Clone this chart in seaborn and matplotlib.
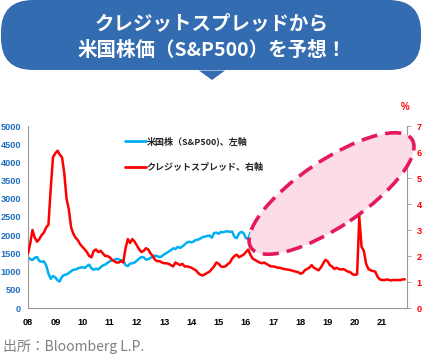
import matplotlib
matplotlib.use("Agg")
import matplotlib.pyplot as plt
import matplotlib.dates as mdates
import matplotlib.transforms as mtransforms
from matplotlib.patches import Ellipse, FancyBboxPatch, Polygon
from matplotlib.lines import Line2D
import numpy as np
import pandas as pd
import seaborn as sns

# 米国株 (S&P500) 月次, 2008/01 - 2021/11
sp500 = [
    1390, 1340, 1320, 1380, 1400, 1290, 1270, 1280, 1170, 950, 800, 880,      # 2008
    840, 760, 730, 860, 910, 920, 960, 1010, 1050, 1060, 1090, 1110,         # 2009
    1120, 1100, 1150, 1190, 1090, 1050, 1080, 1060, 1120, 1170, 1190, 1240,  # 2010
    1280, 1320, 1310, 1350, 1340, 1310, 1300, 1180, 1150, 1220, 1230, 1250,  # 2011
    1300, 1360, 1400, 1390, 1330, 1340, 1380, 1400, 1440, 1420, 1400, 1420,  # 2012
    1480, 1510, 1550, 1590, 1640, 1620, 1680, 1650, 1690, 1740, 1800, 1820,  # 2013
    1800, 1830, 1870, 1880, 1910, 1950, 1960, 1980, 1990, 1930, 2060, 2070,  # 2014
    2040, 2090, 2080, 2100, 2110, 2090, 2100, 1950, 1920, 2050, 2090, 2060,  # 2015
    1920, 1900, 2060, 2065, 2097, 2099, 2174, 2171, 2168, 2126, 2199, 2239,  # 2016
    2279, 2364, 2363, 2384, 2412, 2423, 2470, 2472, 2519, 2575, 2648, 2674,  # 2017
    2824, 2714, 2641, 2648, 2705, 2718, 2816, 2902, 2914, 2712, 2760, 2507,  # 2018
    2704, 2784, 2834, 2946, 2752, 2942, 2980, 2926, 2977, 3038, 3141, 3231,  # 2019
    3226, 2954, 2520, 2912, 3044, 3100, 3271, 3500, 3363, 3270, 3622, 3756,  # 2020
    3714, 3811, 3973, 4181, 4204, 4298, 4395, 4523, 4308, 4605, 4567,        # 2021
]

# クレジットスプレッド (%) 月次, 2008/01 - 2021/11
spread = [
    2.1, 2.5, 3.0, 2.7, 2.55, 2.65, 2.8, 2.9, 3.1, 3.2, 4.6, 5.8,            # 2008
    5.95, 6.05, 5.9, 5.8, 5.2, 4.2, 3.8, 3.1, 2.85, 2.7, 2.6, 2.45,          # 2009
    2.35, 2.25, 2.15, 2.0, 1.95, 2.2, 2.25, 2.15, 2.2, 2.1, 2.0, 2.0,        # 2010
    1.95, 1.85, 1.8, 1.75, 1.75, 1.8, 1.75, 2.3, 2.65, 2.5, 2.65, 2.55,      # 2011
    2.4, 2.25, 2.15, 2.2, 2.3, 2.25, 2.1, 2.0, 1.85, 1.8, 1.8, 1.75,         # 2012
    1.72, 1.72, 1.7, 1.65, 1.6, 1.75, 1.7, 1.65, 1.7, 1.6, 1.6, 1.58,        # 2013
    1.55, 1.5, 1.45, 1.35, 1.28, 1.25, 1.3, 1.35, 1.4, 1.5, 1.6, 1.75,       # 2014
    1.7, 1.6, 1.58, 1.6, 1.68, 1.75, 1.9, 2.0, 2.05, 1.95, 2.0, 2.05,        # 2015
    2.15, 2.25, 2.05, 1.9, 1.85, 1.8, 1.75, 1.72, 1.75, 1.7, 1.65, 1.6,      # 2016
    1.6, 1.58, 1.55, 1.55, 1.52, 1.5, 1.48, 1.47, 1.45, 1.42, 1.4, 1.38,     # 2017
    1.32, 1.35, 1.45, 1.5, 1.55, 1.65, 1.55, 1.5, 1.45, 1.55, 1.7, 1.85,     # 2018
    1.8, 1.65, 1.6, 1.5, 1.55, 1.5, 1.48, 1.5, 1.45, 1.4, 1.38, 1.3,         # 2019
    1.27, 1.3, 3.5, 2.35, 2.2, 1.7, 1.5, 1.45, 1.42, 1.4, 1.2, 1.1,          # 2020
    1.08, 1.07, 1.1, 1.08, 1.06, 1.08, 1.07, 1.08, 1.07, 1.1, 1.1,           # 2021
]

dates = pd.date_range("2008-01-01", periods=len(spread), freq="MS")
df = pd.DataFrame({"date": dates, "sp500": sp500, "spread": spread})

sns.set_theme(style="white")
plt.rcParams["font.family"] = ["Noto Sans CJK JP", "DejaVu Sans"]

W, H = 425, 358
fig = plt.figure(figsize=(W / 100, H / 100), dpi=100)
px = mtransforms.IdentityTransform()

ax = fig.add_axes([28 / W, 50 / H, 379 / W, 182 / H])
ax2 = ax.twinx()

sns.lineplot(data=df, x="date", y="sp500", ax=ax, color="#00B0F0", lw=1.8)
sns.lineplot(data=df, x="date", y="spread", ax=ax2, color="#FF0000", lw=1.8, zorder=3)

ax.set_xlim(pd.Timestamp("2008-01-01"), pd.Timestamp("2021-12-01"))
ax.set_ylim(0, 5000)
ax.set_yticks(np.arange(0, 5001, 500))
ax2.set_ylim(0, 7)
ax2.set_yticks(range(0, 8))
ax.xaxis.set_major_locator(mdates.YearLocator())
ax.xaxis.set_major_formatter(mdates.DateFormatter("%y"))
for a in (ax, ax2):
    a.set_xlabel("")
    a.set_ylabel("")
    a.grid(False)

tick_font = dict(family="Liberation Sans", weight="bold", size=6.6)
ax.tick_params(axis="y", length=0, pad=5, colors="#1F6FC0")
ax.tick_params(axis="x", length=2, width=0.6, color="#999999", pad=5)
ax2.tick_params(axis="y", length=3, width=0.6, color="#999999", pad=4, labelcolor="#FF0000")
for lab in ax.get_yticklabels() + ax.get_xticklabels() + ax2.get_yticklabels():
    lab.set_fontproperties(tick_font)
for lab in ax.get_xticklabels():
    lab.set_color("black")

for s in ["top", "right"]:
    ax.spines[s].set_visible(False)
for s in ["top", "left", "bottom"]:
    ax2.spines[s].set_visible(False)
for sp in [ax.spines["left"], ax.spines["bottom"], ax2.spines["right"]]:
    sp.set_color("#999999")
    sp.set_linewidth(0.8)

# 楕円 (予想エリア)
ell = Ellipse((331.5, H - 193.5), 194, 66, angle=34, transform=px,
              facecolor="#FCDDE5", edgecolor="#E5195E", lw=2.6,
              linestyle=(0, (4.5, 2.2)), zorder=2.7, clip_on=False)
ax2.add_patch(ell)

# 凡例
handles = [Line2D([], [], color="#00B0F0", lw=2),
           Line2D([], [], color="#FF0000", lw=2)]
fig.legend(handles, ["米国株（S&P500)、左軸", "クレジットスプレッド、右軸"],
           loc="upper left", bbox_to_anchor=(125 / W, 1 - 136 / H),
           frameon=False, handlelength=2.3, handletextpad=0.1,
           labelspacing=1.9, borderaxespad=0, borderpad=0,
           prop=dict(family=["Noto Sans CJK JP"], weight="bold", size=6.5))

fig.text(405 / W, 1 - 107 / H, "%", color="#FF0000", ha="center", va="center",
         fontsize=7, fontweight="bold", family="Liberation Sans")

# タイトル吹き出し
banner = FancyBboxPatch((1, H - 70), 420, 70, boxstyle="round,pad=0,rounding_size=32",
                        transform=px, facecolor="#336CB0", edgecolor="none")
fig.patches.append(banner)
tri = Polygon([(199, H - 70.5), (225, H - 70.5), (212, H - 80)], closed=True,
              transform=px, facecolor="#336CB0", edgecolor="none")
fig.patches.append(tri)
fig.text(212 / W, 1 - 24 / H, "クレジットスプレッドから", color="white",
         ha="center", va="center", fontsize=14, fontweight="bold")
fig.text(212 / W, 1 - 50 / H, "米国株価（S&P500）を予想！", color="white",
         ha="center", va="center", fontsize=14, fontweight="bold")

fig.text(3 / W, 11 / H, "出所：Bloomberg L.P.", color="#808080",
         ha="left", va="center", fontsize=10)

fig.savefig("out.png", dpi=100)
